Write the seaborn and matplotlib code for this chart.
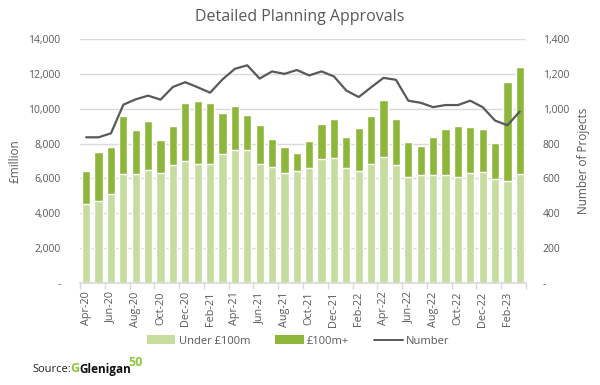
import matplotlib
matplotlib.use("Agg")
import matplotlib.pyplot as plt
import seaborn as sns
import pandas as pd
import numpy as np
from matplotlib.patches import Patch
from matplotlib.lines import Line2D
from matplotlib.ticker import FuncFormatter, FixedLocator

months = ["Apr-20", "May-20", "Jun-20", "Jul-20", "Aug-20", "Sep-20", "Oct-20", "Nov-20", "Dec-20",
          "Jan-21", "Feb-21", "Mar-21", "Apr-21", "May-21", "Jun-21", "Jul-21", "Aug-21", "Sep-21",
          "Oct-21", "Nov-21", "Dec-21", "Jan-22", "Feb-22", "Mar-22", "Apr-22", "May-22", "Jun-22",
          "Jul-22", "Aug-22", "Sep-22", "Oct-22", "Nov-22", "Dec-22", "Jan-23", "Feb-23", "Mar-23"]
under_100m = [4540, 4710, 5080, 6270, 6270, 6470, 6330, 6760, 6990,
              6810, 6810, 7430, 7620, 7620, 6810, 6640, 6310, 6410,
              6600, 7120, 7180, 6600, 6410, 6850, 7220, 6760, 6060,
              6180, 6180, 6180, 6060, 6310, 6390, 5940, 5870, 6270]
over_100m = [1890, 2820, 2700, 3300, 2490, 2810, 1850, 2230, 3340,
             3630, 3520, 2320, 2530, 2010, 2240, 1600, 1470, 1060,
             1520, 2030, 2220, 1800, 2470, 2760, 3260, 2640, 2050,
             1690, 2220, 2640, 2970, 2630, 2470, 2110, 5650, 6120]
number = [836, 836, 859, 1023, 1054, 1075, 1052, 1125, 1152,
          1123, 1092, 1168, 1229, 1249, 1173, 1214, 1200, 1222,
          1191, 1214, 1185, 1104, 1067, 1123, 1177, 1166, 1046,
          1034, 1009, 1021, 1021, 1046, 1009, 932, 905, 984]

df = pd.DataFrame({"month": months, "under": under_100m, "over": over_100m, "number": number})
df["total"] = df["under"] + df["over"]
df["pos"] = np.arange(len(df))

LIGHT = "#c6dd9f"
DARK = "#8db63b"
LINE = "#595959"
TEXT = "#595959"
GRID = "#d9d9d9"
FONT = ["Open Sans", "DejaVu Sans"]

sns.set_theme(style="white")
plt.rcParams["font.family"] = FONT

fig = plt.figure(figsize=(6, 3.85), dpi=100)
ax = fig.add_axes([80 / 600, 1 - 283 / 385, 446 / 600, 244 / 385])

sns.barplot(data=df, x="month", y="total", color=DARK, saturation=1, width=0.66, ax=ax, order=months)
sns.barplot(data=df, x="month", y="under", color=LIGHT, saturation=1, width=0.66, ax=ax, order=months)

ax.set_ylim(0, 14000)
ax.set_xlim(-0.5, len(months) - 0.5)
ax.set_yticks(np.arange(0, 14001, 2000))
ax.yaxis.set_major_formatter(FuncFormatter(lambda v, p: "-" if v == 0 else f"{int(v):,}"))
ax.grid(axis="y", color=GRID, linewidth=1)
ax.set_axisbelow(True)
for s in ["top", "right", "left"]:
    ax.spines[s].set_visible(False)
ax.spines["bottom"].set_color(GRID)
ax.set_xticks(np.arange(0, len(months), 2))
ax.set_xticklabels(months[::2], rotation=90, fontsize=7.8, color=TEXT)
ax.xaxis.set_minor_locator(FixedLocator(np.arange(-0.5, len(months), 2)))
ax.tick_params(axis="x", which="major", length=0, pad=6)
ax.tick_params(axis="x", which="minor", length=4, color=GRID, bottom=True)
ax.tick_params(axis="y", length=0, labelsize=7.5, labelcolor=TEXT, pad=14)
ax.set_xlabel("")
ax.set_ylabel("£million", fontsize=8.5, color=TEXT, labelpad=5)

ax2 = ax.twinx()
sns.lineplot(data=df, x="pos", y="number", color=LINE, linewidth=1.6, ax=ax2)
ax2.set_ylim(0, 1400)
ax2.set_xlim(-0.5, len(months) - 0.5)
ax2.set_yticks(np.arange(0, 1401, 200))
ax2.yaxis.set_major_formatter(FuncFormatter(lambda v, p: "-" if v == 0 else f"{int(v):,}"))
ax2.tick_params(axis="y", length=0, labelsize=7.5, labelcolor=TEXT, pad=12)
for s in ["top", "right", "left", "bottom"]:
    ax2.spines[s].set_visible(False)
ax2.set_ylabel("Number of Projects", fontsize=8.5, color=TEXT, labelpad=6)
ax2.set_xlabel("")

fig.text(0.5, 1 - 17 / 385, "Detailed Planning Approvals", ha="center", va="center",
         fontsize=11.5, color=TEXT)

handles = [Patch(facecolor=LIGHT, edgecolor="none", label="Under £100m"),
           Patch(facecolor=DARK, edgecolor="none", label="£100m+"),
           Line2D([0], [0], color=LINE, linewidth=1.4, label="Number")]
leg = fig.legend(handles=handles, loc="center", bbox_to_anchor=(298 / 600, 1 - 341 / 385), ncol=3,
                 frameon=False, fontsize=8, handlelength=2.6, handleheight=0.8, columnspacing=2.2,
                 handletextpad=0.3)
for t in leg.get_texts():
    t.set_color(TEXT)

fig.text(32 / 600, 1 - 369 / 385, "Source:", ha="left", va="center", fontsize=8, color="#222222")
fig.text(70 / 600, 1 - 369 / 385, "G", ha="left", va="center", fontsize=9, color="#8dc63f", fontweight="bold")
fig.text(79 / 600, 1 - 369 / 385, "Glenigan", ha="left", va="center", fontsize=8.5, color="#111111",
         fontweight="bold")
fig.text(128 / 600, 1 - 362 / 385, "50", ha="left", va="center", fontsize=9, color="#8dc63f",
         fontweight="bold")

fig.savefig("out.png", dpi=100, facecolor="white")
